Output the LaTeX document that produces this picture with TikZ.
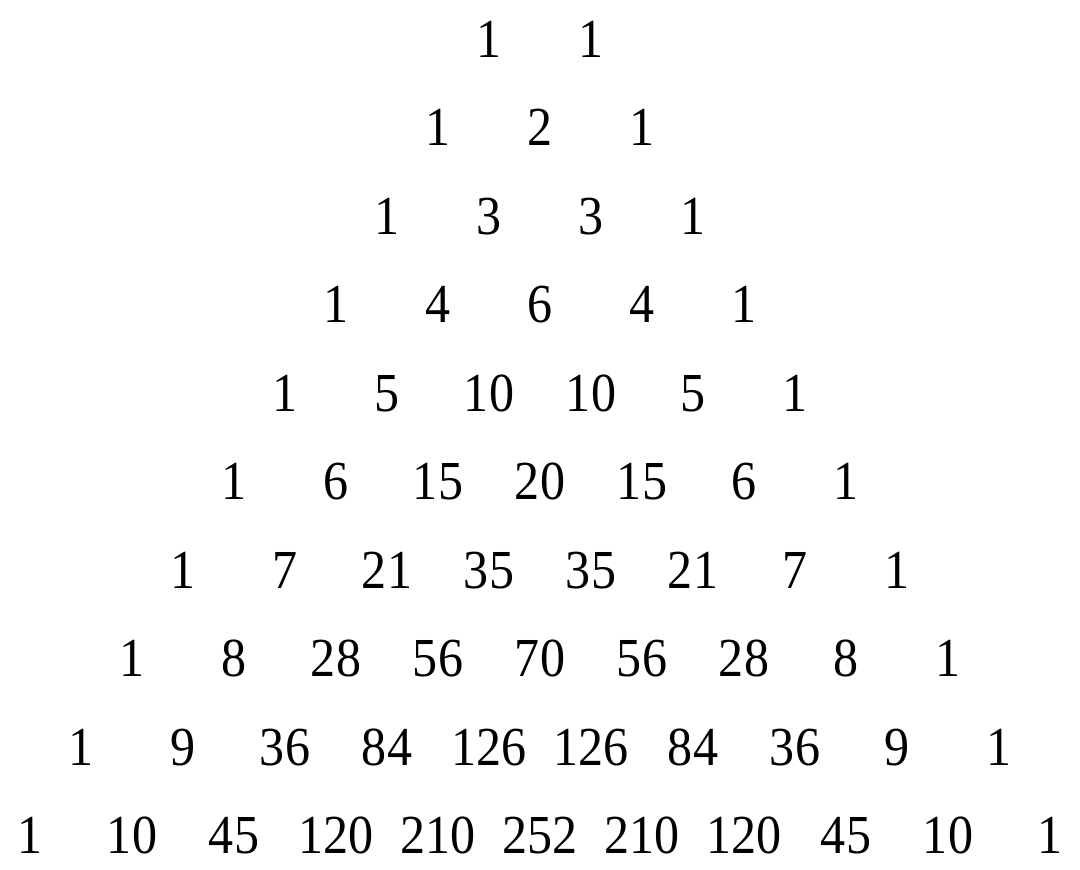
\documentclass[tikz,border=0pt]{standalone}
\usepackage{fontspec}
\setmainfont{Liberation Serif}
\begin{document}
\begin{tikzpicture}[x=1pt,y=-1pt,
  num/.style={anchor=base, inner sep=0pt, font=\fontsize{55}{55}\selectfont}]
\useasboundingbox (0,0) rectangle (1080,870);
\foreach \n/\row in {
  1/{1,1},
  2/{1,2,1},
  3/{1,3,3,1},
  4/{1,4,6,4,1},
  5/{1,5,10,10,5,1},
  6/{1,6,15,20,15,6,1},
  7/{1,7,21,35,35,21,7,1},
  8/{1,8,28,56,70,56,28,8,1},
  9/{1,9,36,84,126,126,84,36,9,1},
  10/{1,10,45,120,210,252,210,120,45,10,1}}{
  \foreach \val [count=\c from 0] in \row {
    \node[num] (p-\n-\c) at ({540+(\c-\n/2)*102},{57+(\n-1)*88.55}) {\scalebox{0.91}[1]{\val}};
  }
}
\end{tikzpicture}
\end{document}
